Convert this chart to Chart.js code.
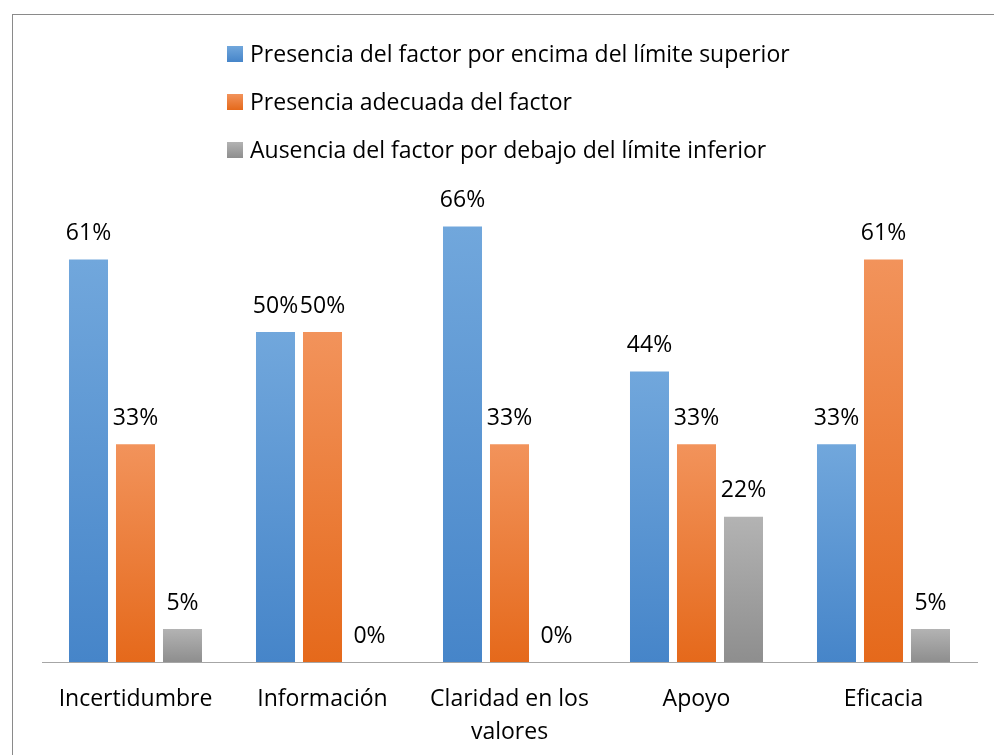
<!DOCTYPE html>
<html>
<head>
<meta charset="utf-8">
<script src="https://cdn.jsdelivr.net/npm/chart.js@4.4.1/dist/chart.umd.min.js"></script>
<style>
  html, body { margin: 0; padding: 0; background: #fff; overflow: hidden; }
  #frame { position: absolute; left: 12px; top: 14px; width: 1100px; height: 900px; border: 1px solid #8a8a8a; }
  #wrap { position: absolute; left: 0; top: 0; width: 994px; height: 755px; }
</style>
</head>
<body>
<div id="frame"></div>
<div id="wrap"><canvas id="c" width="994" height="755"></canvas></div>
<script>
// categories and values (percent)
const categories = ['Incertidumbre', 'Información', ['Claridad en los', 'valores'], 'Apoyo', 'Eficacia'];
const seriesNames = [
  'Presencia del factor por encima del límite superior',
  'Presencia adecuada del factor',
  'Ausencia del factor por debajo del límite inferior'
];
const encima = [61, 50, 66, 44, 33];
const adecuada = [33, 50, 33, 33, 61];
const debajo = [5, 0, 0, 22, 5];

const FONT = '"Open Sans", Lato, sans-serif';
const FSIZE = 23;
// top / bottom colours of each series gradient
const shades = [
  ['#71a7dc', '#4685c9'],
  ['#f2935b', '#e5691b'],
  ['#b3b3b3', '#8e8e8e']
];

function barFill(idx) {
  return function (ctx) {
    const chart = ctx.chart;
    if (!chart.chartArea || ctx.type !== 'data') return shades[idx][1];
    const y = chart.scales.y;
    const top = y.getPixelForValue(ctx.raw);
    const base = y.getPixelForValue(0);
    if (base - top < 1) return shades[idx][1];
    const g = chart.ctx.createLinearGradient(0, top, 0, base);
    g.addColorStop(0, shades[idx][0]);
    g.addColorStop(1, shades[idx][1]);
    return g;
  };
}

// draws the value over every bar and the vertical legend
const extras = {
  id: 'extras',
  afterDatasetsDraw(chart) {
    const c = chart.ctx;
    c.save();
    c.font = FSIZE + 'px ' + FONT;
    c.fillStyle = '#000';
    c.textAlign = 'center';
    c.textBaseline = 'middle';
    chart.data.datasets.forEach((ds, i) => {
      chart.getDatasetMeta(i).data.forEach((bar, j) => {
        c.fillText(ds.data[j] + '%', bar.x, bar.y - 26);
      });
    });
    // legend
    const rows = [54, 102, 150];
    c.textAlign = 'left';
    chart.data.datasets.forEach((ds, i) => {
      const g = c.createLinearGradient(0, rows[i] - 8, 0, rows[i] + 8);
      g.addColorStop(0, shades[i][0]);
      g.addColorStop(1, shades[i][1]);
      c.fillStyle = g;
      c.fillRect(227, rows[i] - 8, 16, 16);
      c.fillStyle = '#000';
      c.fillText(ds.label, 250, rows[i] + 1);
    });
    c.restore();
  }
};

new Chart(document.getElementById('c'), {
  type: 'bar',
  data: {
    labels: categories,
    datasets: [
      { label: seriesNames[0], data: encima, backgroundColor: barFill(0) },
      { label: seriesNames[1], data: adecuada, backgroundColor: barFill(1) },
      { label: seriesNames[2], data: debajo, backgroundColor: barFill(2) }
    ]
  },
  options: {
    responsive: false,
    animation: false,
    layout: { padding: { left: 42, right: 17, top: 200, bottom: 0 } },
    datasets: { bar: { categoryPercentage: 0.754, barPercentage: 0.83 } },
    plugins: { legend: { display: false }, tooltip: { enabled: false } },
    scales: {
      x: {
        grid: { display: false, drawTicks: false },
        border: { display: true, color: '#a6a6a6', width: 1 },
        ticks: { color: '#000', font: { family: FONT, size: FSIZE, lineHeight: 1.43 }, padding: 21, maxRotation: 0, autoSkip: false },
        afterFit(scale) { scale.height = 93; }
      },
      y: { display: false, min: 0, max: 70 }
    }
  },
  plugins: [extras]
});
</script>
</body>
</html>
